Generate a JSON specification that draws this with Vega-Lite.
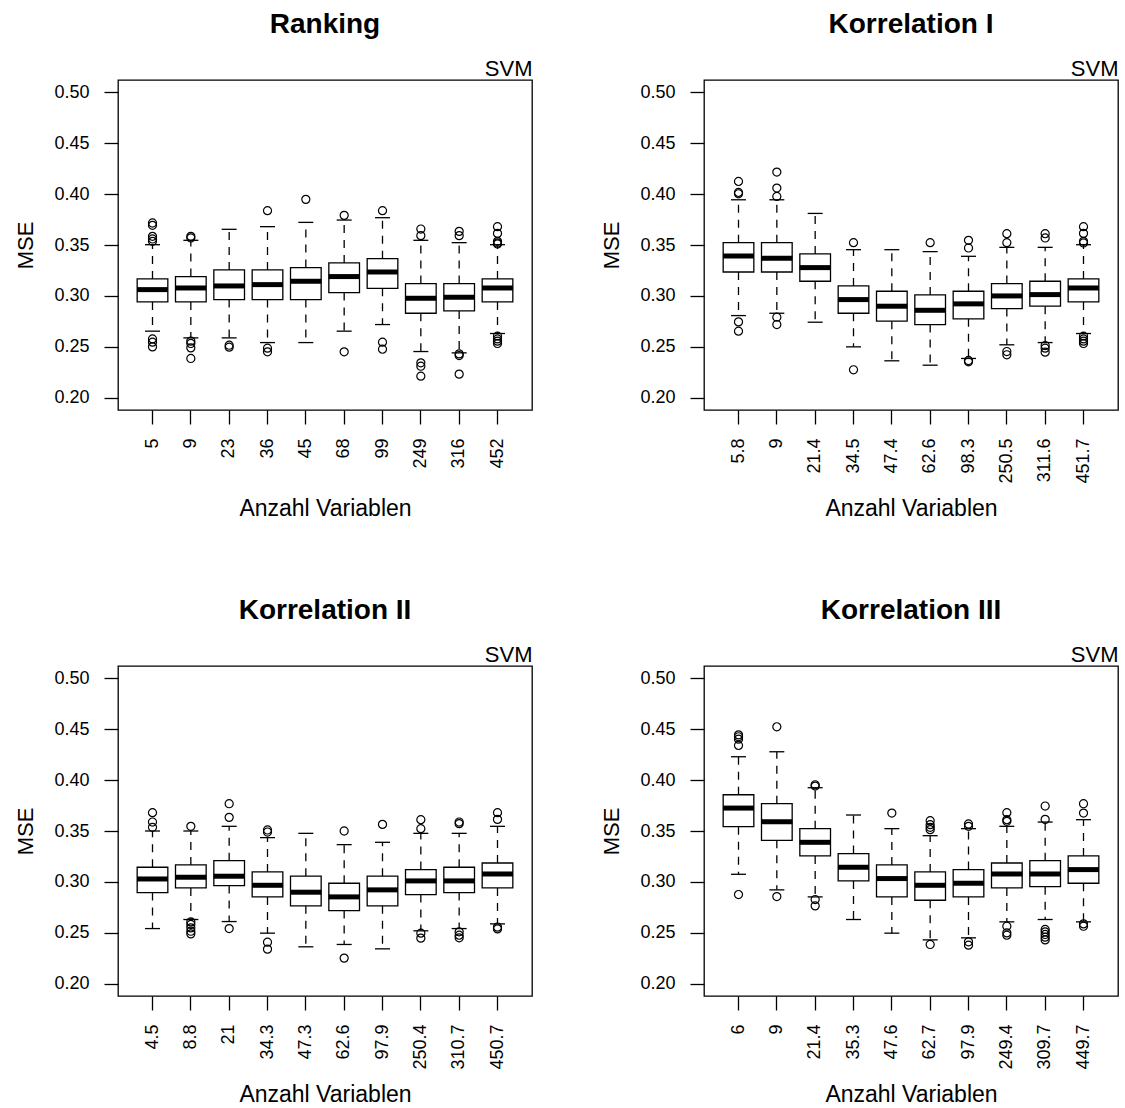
{
  "$schema": "https://vega.github.io/schema/vega-lite/v6.json",
  "background": "white",
  "padding": {"left": 14, "top": 10, "right": 5, "bottom": 2},
  "config": {
    "font": "Liberation Sans",
    "view": {"stroke": "black", "strokeWidth": 1.3},
    "axis": {"labelColor": "black", "titleColor": "black", "tickColor": "black", "labelFont": "Liberation Sans", "titleFont": "Liberation Sans"},
    "title": {"color": "black", "font": "Liberation Sans"},
    "tick": {"opacity": 1}
  },
  "datasets": {
    "boxes": [
      {"p": "R", "k": "5", "q1": 0.2941, "md": 0.3062, "q3": 0.3167, "lo": 0.2654, "hi": 0.3503},
      {"p": "R", "k": "9", "q1": 0.2941, "md": 0.3078, "q3": 0.3190, "lo": 0.2588, "hi": 0.3546},
      {"p": "R", "k": "23", "q1": 0.2964, "md": 0.3098, "q3": 0.3255, "lo": 0.2588, "hi": 0.3654},
      {"p": "R", "k": "36", "q1": 0.2964, "md": 0.3111, "q3": 0.3255, "lo": 0.2542, "hi": 0.3680},
      {"p": "R", "k": "45", "q1": 0.2964, "md": 0.3144, "q3": 0.3278, "lo": 0.2542, "hi": 0.3722},
      {"p": "R", "k": "68", "q1": 0.3033, "md": 0.3190, "q3": 0.3324, "lo": 0.2654, "hi": 0.3745},
      {"p": "R", "k": "99", "q1": 0.3075, "md": 0.3235, "q3": 0.3366, "lo": 0.2719, "hi": 0.3768},
      {"p": "R", "k": "249", "q1": 0.2830, "md": 0.2977, "q3": 0.3121, "lo": 0.2454, "hi": 0.3546},
      {"p": "R", "k": "316", "q1": 0.2853, "md": 0.2987, "q3": 0.3121, "lo": 0.2441, "hi": 0.3523},
      {"p": "R", "k": "452", "q1": 0.2941, "md": 0.3078, "q3": 0.3167, "lo": 0.2631, "hi": 0.3503},
      {"p": "K1", "k": "5.8", "q1": 0.3235, "md": 0.3392, "q3": 0.3523, "lo": 0.2807, "hi": 0.3944},
      {"p": "K1", "k": "9", "q1": 0.3235, "md": 0.3369, "q3": 0.3523, "lo": 0.2830, "hi": 0.3944},
      {"p": "K1", "k": "21.4", "q1": 0.3144, "md": 0.3278, "q3": 0.3412, "lo": 0.2742, "hi": 0.3810},
      {"p": "K1", "k": "34.5", "q1": 0.2830, "md": 0.2964, "q3": 0.3098, "lo": 0.2500, "hi": 0.3454},
      {"p": "K1", "k": "47.4", "q1": 0.2752, "md": 0.2899, "q3": 0.3046, "lo": 0.2363, "hi": 0.3454},
      {"p": "K1", "k": "62.6", "q1": 0.2719, "md": 0.2859, "q3": 0.3010, "lo": 0.2320, "hi": 0.3435},
      {"p": "K1", "k": "98.3", "q1": 0.2775, "md": 0.2922, "q3": 0.3046, "lo": 0.2386, "hi": 0.3389},
      {"p": "K1", "k": "250.5", "q1": 0.2876, "md": 0.3000, "q3": 0.3121, "lo": 0.2520, "hi": 0.3477},
      {"p": "K1", "k": "311.6", "q1": 0.2899, "md": 0.3013, "q3": 0.3144, "lo": 0.2542, "hi": 0.3477},
      {"p": "K1", "k": "451.7", "q1": 0.2941, "md": 0.3078, "q3": 0.3167, "lo": 0.2631, "hi": 0.3503},
      {"p": "K2", "k": "4.5", "q1": 0.2895, "md": 0.3029, "q3": 0.3144, "lo": 0.2542, "hi": 0.3500},
      {"p": "K2", "k": "8.8", "q1": 0.2941, "md": 0.3046, "q3": 0.3167, "lo": 0.2631, "hi": 0.3500},
      {"p": "K2", "k": "21", "q1": 0.2964, "md": 0.3056, "q3": 0.3209, "lo": 0.2611, "hi": 0.3546},
      {"p": "K2", "k": "34.3", "q1": 0.2853, "md": 0.2967, "q3": 0.3098, "lo": 0.2497, "hi": 0.3435},
      {"p": "K2", "k": "47.3", "q1": 0.2765, "md": 0.2899, "q3": 0.3056, "lo": 0.2363, "hi": 0.3477},
      {"p": "K2", "k": "62.6", "q1": 0.2719, "md": 0.2853, "q3": 0.2987, "lo": 0.2386, "hi": 0.3366},
      {"p": "K2", "k": "97.9", "q1": 0.2765, "md": 0.2922, "q3": 0.3056, "lo": 0.2343, "hi": 0.3389},
      {"p": "K2", "k": "250.4", "q1": 0.2876, "md": 0.3010, "q3": 0.3121, "lo": 0.2520, "hi": 0.3477},
      {"p": "K2", "k": "310.7", "q1": 0.2895, "md": 0.3010, "q3": 0.3144, "lo": 0.2542, "hi": 0.3477},
      {"p": "K2", "k": "450.7", "q1": 0.2941, "md": 0.3078, "q3": 0.3186, "lo": 0.2588, "hi": 0.3546},
      {"p": "K3", "k": "6", "q1": 0.3542, "md": 0.3725, "q3": 0.3856, "lo": 0.3075, "hi": 0.4229},
      {"p": "K3", "k": "9", "q1": 0.3408, "md": 0.3592, "q3": 0.3768, "lo": 0.2922, "hi": 0.4278},
      {"p": "K3", "k": "21.4", "q1": 0.3255, "md": 0.3389, "q3": 0.3523, "lo": 0.2853, "hi": 0.3925},
      {"p": "K3", "k": "35.3", "q1": 0.3010, "md": 0.3144, "q3": 0.3278, "lo": 0.2631, "hi": 0.3657},
      {"p": "K3", "k": "47.6", "q1": 0.2853, "md": 0.3033, "q3": 0.3167, "lo": 0.2497, "hi": 0.3523},
      {"p": "K3", "k": "62.7", "q1": 0.2820, "md": 0.2967, "q3": 0.3098, "lo": 0.2431, "hi": 0.3454},
      {"p": "K3", "k": "97.9", "q1": 0.2853, "md": 0.2987, "q3": 0.3121, "lo": 0.2451, "hi": 0.3523},
      {"p": "K3", "k": "249.4", "q1": 0.2941, "md": 0.3078, "q3": 0.3186, "lo": 0.2608, "hi": 0.3546},
      {"p": "K3", "k": "309.7", "q1": 0.2953, "md": 0.3078, "q3": 0.3209, "lo": 0.2631, "hi": 0.3588},
      {"p": "K3", "k": "449.7", "q1": 0.2987, "md": 0.3121, "q3": 0.3255, "lo": 0.2608, "hi": 0.3611}
    ],
    "out": [
      {"p": "R", "k": "5", "v": 0.3716}, {"p": "R", "k": "5", "v": 0.3693}, {"p": "R", "k": "5", "v": 0.3585}, {"p": "R", "k": "5", "v": 0.3559}, {"p": "R", "k": "5", "v": 0.3536}, {"p": "R", "k": "5", "v": 0.2578}, {"p": "R", "k": "5", "v": 0.2546}, {"p": "R", "k": "5", "v": 0.2500},
      {"p": "R", "k": "9", "v": 0.3585}, {"p": "R", "k": "9", "v": 0.3569}, {"p": "R", "k": "9", "v": 0.2556}, {"p": "R", "k": "9", "v": 0.2533}, {"p": "R", "k": "9", "v": 0.2490}, {"p": "R", "k": "9", "v": 0.2386},
      {"p": "R", "k": "23", "v": 0.2516}, {"p": "R", "k": "23", "v": 0.2497},
      {"p": "R", "k": "36", "v": 0.3837}, {"p": "R", "k": "36", "v": 0.2487}, {"p": "R", "k": "36", "v": 0.2451},
      {"p": "R", "k": "45", "v": 0.3948},
      {"p": "R", "k": "68", "v": 0.3791}, {"p": "R", "k": "68", "v": 0.2451},
      {"p": "R", "k": "99", "v": 0.3837}, {"p": "R", "k": "99", "v": 0.2546}, {"p": "R", "k": "99", "v": 0.2477},
      {"p": "R", "k": "249", "v": 0.3657}, {"p": "R", "k": "249", "v": 0.3592}, {"p": "R", "k": "249", "v": 0.2343}, {"p": "R", "k": "249", "v": 0.2310}, {"p": "R", "k": "249", "v": 0.2212},
      {"p": "R", "k": "316", "v": 0.3634}, {"p": "R", "k": "316", "v": 0.3592}, {"p": "R", "k": "316", "v": 0.2431}, {"p": "R", "k": "316", "v": 0.2415}, {"p": "R", "k": "316", "v": 0.2232},
      {"p": "R", "k": "452", "v": 0.3680}, {"p": "R", "k": "452", "v": 0.3614}, {"p": "R", "k": "452", "v": 0.3536}, {"p": "R", "k": "452", "v": 0.3520}, {"p": "R", "k": "452", "v": 0.3510}, {"p": "R", "k": "452", "v": 0.2605}, {"p": "R", "k": "452", "v": 0.2578}, {"p": "R", "k": "452", "v": 0.2556}, {"p": "R", "k": "452", "v": 0.2533},
      {"p": "K1", "k": "5.8", "v": 0.4124}, {"p": "K1", "k": "5.8", "v": 0.4016}, {"p": "K1", "k": "5.8", "v": 0.4003}, {"p": "K1", "k": "5.8", "v": 0.2745}, {"p": "K1", "k": "5.8", "v": 0.2654},
      {"p": "K1", "k": "9", "v": 0.4216}, {"p": "K1", "k": "9", "v": 0.4059}, {"p": "K1", "k": "9", "v": 0.3977}, {"p": "K1", "k": "9", "v": 0.2791}, {"p": "K1", "k": "9", "v": 0.2719},
      {"p": "K1", "k": "34.5", "v": 0.3523}, {"p": "K1", "k": "34.5", "v": 0.2275},
      {"p": "K1", "k": "62.6", "v": 0.3523},
      {"p": "K1", "k": "98.3", "v": 0.3546}, {"p": "K1", "k": "98.3", "v": 0.3471}, {"p": "K1", "k": "98.3", "v": 0.2366}, {"p": "K1", "k": "98.3", "v": 0.2353},
      {"p": "K1", "k": "250.5", "v": 0.3611}, {"p": "K1", "k": "250.5", "v": 0.3523}, {"p": "K1", "k": "250.5", "v": 0.2454}, {"p": "K1", "k": "250.5", "v": 0.2422},
      {"p": "K1", "k": "311.6", "v": 0.3611}, {"p": "K1", "k": "311.6", "v": 0.3569}, {"p": "K1", "k": "311.6", "v": 0.2513}, {"p": "K1", "k": "311.6", "v": 0.2487}, {"p": "K1", "k": "311.6", "v": 0.2448},
      {"p": "K1", "k": "451.7", "v": 0.3680}, {"p": "K1", "k": "451.7", "v": 0.3614}, {"p": "K1", "k": "451.7", "v": 0.3536}, {"p": "K1", "k": "451.7", "v": 0.3520}, {"p": "K1", "k": "451.7", "v": 0.2605}, {"p": "K1", "k": "451.7", "v": 0.2578}, {"p": "K1", "k": "451.7", "v": 0.2556}, {"p": "K1", "k": "451.7", "v": 0.2533},
      {"p": "K2", "k": "4.5", "v": 0.3680}, {"p": "K2", "k": "4.5", "v": 0.3588}, {"p": "K2", "k": "4.5", "v": 0.3536},
      {"p": "K2", "k": "8.8", "v": 0.3546}, {"p": "K2", "k": "8.8", "v": 0.2608}, {"p": "K2", "k": "8.8", "v": 0.2582}, {"p": "K2", "k": "8.8", "v": 0.2549}, {"p": "K2", "k": "8.8", "v": 0.2516}, {"p": "K2", "k": "8.8", "v": 0.2490},
      {"p": "K2", "k": "21", "v": 0.3768}, {"p": "K2", "k": "21", "v": 0.3634}, {"p": "K2", "k": "21", "v": 0.2542},
      {"p": "K2", "k": "34.3", "v": 0.3510}, {"p": "K2", "k": "34.3", "v": 0.3490}, {"p": "K2", "k": "34.3", "v": 0.2408}, {"p": "K2", "k": "34.3", "v": 0.2340},
      {"p": "K2", "k": "62.6", "v": 0.3500}, {"p": "K2", "k": "62.6", "v": 0.2252},
      {"p": "K2", "k": "97.9", "v": 0.3565},
      {"p": "K2", "k": "250.4", "v": 0.3611}, {"p": "K2", "k": "250.4", "v": 0.3523}, {"p": "K2", "k": "250.4", "v": 0.2497}, {"p": "K2", "k": "250.4", "v": 0.2448},
      {"p": "K2", "k": "310.7", "v": 0.3588}, {"p": "K2", "k": "310.7", "v": 0.3572}, {"p": "K2", "k": "310.7", "v": 0.2510}, {"p": "K2", "k": "310.7", "v": 0.2477}, {"p": "K2", "k": "310.7", "v": 0.2451},
      {"p": "K2", "k": "450.7", "v": 0.3680}, {"p": "K2", "k": "450.7", "v": 0.3614}, {"p": "K2", "k": "450.7", "v": 0.2556}, {"p": "K2", "k": "450.7", "v": 0.2539},
      {"p": "K3", "k": "6", "v": 0.4444}, {"p": "K3", "k": "6", "v": 0.4425}, {"p": "K3", "k": "6", "v": 0.4402}, {"p": "K3", "k": "6", "v": 0.4340}, {"p": "K3", "k": "6", "v": 0.2876},
      {"p": "K3", "k": "9", "v": 0.4523}, {"p": "K3", "k": "9", "v": 0.2856},
      {"p": "K3", "k": "21.4", "v": 0.3954}, {"p": "K3", "k": "21.4", "v": 0.3941}, {"p": "K3", "k": "21.4", "v": 0.2827}, {"p": "K3", "k": "21.4", "v": 0.2765},
      {"p": "K3", "k": "47.6", "v": 0.3676},
      {"p": "K3", "k": "62.7", "v": 0.3601}, {"p": "K3", "k": "62.7", "v": 0.3562}, {"p": "K3", "k": "62.7", "v": 0.3536}, {"p": "K3", "k": "62.7", "v": 0.3513}, {"p": "K3", "k": "62.7", "v": 0.2386},
      {"p": "K3", "k": "97.9", "v": 0.3569}, {"p": "K3", "k": "97.9", "v": 0.3546}, {"p": "K3", "k": "97.9", "v": 0.2412}, {"p": "K3", "k": "97.9", "v": 0.2379},
      {"p": "K3", "k": "249.4", "v": 0.3680}, {"p": "K3", "k": "249.4", "v": 0.3611}, {"p": "K3", "k": "249.4", "v": 0.3595}, {"p": "K3", "k": "249.4", "v": 0.2565}, {"p": "K3", "k": "249.4", "v": 0.2500}, {"p": "K3", "k": "249.4", "v": 0.2477},
      {"p": "K3", "k": "309.7", "v": 0.3745}, {"p": "K3", "k": "309.7", "v": 0.3614}, {"p": "K3", "k": "309.7", "v": 0.2533}, {"p": "K3", "k": "309.7", "v": 0.2510}, {"p": "K3", "k": "309.7", "v": 0.2484}, {"p": "K3", "k": "309.7", "v": 0.2458}, {"p": "K3", "k": "309.7", "v": 0.2431},
      {"p": "K3", "k": "449.7", "v": 0.3768}, {"p": "K3", "k": "449.7", "v": 0.3676}, {"p": "K3", "k": "449.7", "v": 0.2588}, {"p": "K3", "k": "449.7", "v": 0.2565}
    ]
  },
  "columns": 2,
  "spacing": {"row": 75, "column": 67},
  "concat": [
    {
      "width": 414, "height": 330,
      "title": {"text": "Ranking", "fontSize": 28, "fontWeight": "bold", "anchor": "middle", "frame": "group", "baseline": "alphabetic", "offset": -4},
      "resolve": {"axis": {"x": "independent", "y": "independent"}},
      "layer": [
        {"data": {"name": "boxes"}, "transform": [{"filter": "datum.p === 'R'"}],
         "mark": {"type": "rule", "color": "black", "strokeWidth": 1.3, "strokeDash": [8, 7]},
         "encoding": {
           "x": {"field": "k", "type": "nominal", "sort": null, "scale": {"type": "band", "paddingInner": 0, "paddingOuter": 0.4},
                 "axis": {"orient": "bottom", "title": "Anzahl Variablen", "labelAngle": 270, "labelFontSize": 18, "labelPadding": 14, "tickSize": 14, "tickWidth": 1.3, "domain": false, "titleFontSize": 23, "titleFontWeight": "normal", "titleY": 105, "titleBaseline": "alphabetic"}},
           "y": {"field": "q3", "type": "quantitative", "scale": {"domain": [0.188, 0.512], "nice": false, "zero": false},
                 "axis": {"orient": "left", "title": "MSE", "values": [0.2, 0.25, 0.3, 0.35, 0.4, 0.45, 0.5], "format": ".2f", "grid": false, "domain": false, "tickSize": 14, "tickWidth": 1.3, "labelPadding": 15, "labelFontSize": 18, "titleFontSize": 22, "titleFontWeight": "normal", "titlePadding": 16}},
           "y2": {"field": "hi"}
         }},
        {"data": {"name": "boxes"}, "transform": [{"filter": "datum.p === 'R'"}],
         "mark": {"type": "rule", "color": "black", "strokeWidth": 1.3, "strokeDash": [8, 7]},
         "encoding": {
           "x": {"field": "k", "type": "nominal", "sort": null, "scale": {"type": "band", "paddingInner": 0, "paddingOuter": 0.4}, "axis": null},
           "y": {"field": "q1", "type": "quantitative", "scale": {"domain": [0.188, 0.512], "nice": false, "zero": false}, "axis": null},
           "y2": {"field": "lo"}
         }},
        {"data": {"name": "boxes"}, "transform": [{"filter": "datum.p === 'R'"}],
         "mark": {"type": "tick", "orient": "horizontal", "color": "black", "size": 15, "thickness": 1.3, "opacity": 1},
         "encoding": {
           "x": {"field": "k", "type": "nominal", "sort": null, "scale": {"type": "band", "paddingInner": 0, "paddingOuter": 0.4}, "axis": null},
           "y": {"field": "hi", "type": "quantitative", "scale": {"domain": [0.188, 0.512], "nice": false, "zero": false}, "axis": null}
         }},
        {"data": {"name": "boxes"}, "transform": [{"filter": "datum.p === 'R'"}],
         "mark": {"type": "tick", "orient": "horizontal", "color": "black", "size": 15, "thickness": 1.3, "opacity": 1},
         "encoding": {
           "x": {"field": "k", "type": "nominal", "sort": null, "scale": {"type": "band", "paddingInner": 0, "paddingOuter": 0.4}, "axis": null},
           "y": {"field": "lo", "type": "quantitative", "scale": {"domain": [0.188, 0.512], "nice": false, "zero": false}, "axis": null}
         }},
        {"data": {"name": "boxes"}, "transform": [{"filter": "datum.p === 'R'"}],
         "mark": {"type": "bar", "fill": "white", "stroke": "black", "strokeWidth": 1.3, "width": {"band": 0.8}},
         "encoding": {
           "x": {"field": "k", "type": "nominal", "sort": null, "scale": {"type": "band", "paddingInner": 0, "paddingOuter": 0.4}, "axis": null},
           "y": {"field": "q1", "type": "quantitative", "scale": {"domain": [0.188, 0.512], "nice": false, "zero": false}, "axis": null},
           "y2": {"field": "q3"}
         }},
        {"data": {"name": "boxes"}, "transform": [{"filter": "datum.p === 'R'"}],
         "mark": {"type": "tick", "orient": "horizontal", "color": "black", "size": 31, "thickness": 5, "opacity": 1},
         "encoding": {
           "x": {"field": "k", "type": "nominal", "sort": null, "scale": {"type": "band", "paddingInner": 0, "paddingOuter": 0.4},
                 "axis": {"orient": "top", "labels": false, "ticks": false, "domain": false, "grid": false, "title": "SVM", "titleAnchor": "end", "titleFontSize": 22, "titleFontWeight": "normal", "titleBaseline": "alphabetic", "titlePadding": 5}},
           "y": {"field": "md", "type": "quantitative", "scale": {"domain": [0.188, 0.512], "nice": false, "zero": false}, "axis": null}
         }},
        {"data": {"name": "out"}, "transform": [{"filter": "datum.p === 'R'"}],
         "mark": {"type": "point", "shape": "circle", "filled": false, "color": "black", "size": 65, "strokeWidth": 1.2, "opacity": 1},
         "encoding": {
           "x": {"field": "k", "type": "nominal", "sort": null, "scale": {"type": "band", "paddingInner": 0, "paddingOuter": 0.4}, "axis": null},
           "y": {"field": "v", "type": "quantitative", "scale": {"domain": [0.188, 0.512], "nice": false, "zero": false}, "axis": null}
         }}
      ]
    },
    {
      "width": 414, "height": 330,
      "title": {"text": "Korrelation I", "fontSize": 28, "fontWeight": "bold", "anchor": "middle", "frame": "group", "baseline": "alphabetic", "offset": -4},
      "resolve": {"axis": {"x": "independent", "y": "independent"}},
      "layer": [
        {"data": {"name": "boxes"}, "transform": [{"filter": "datum.p === 'K1'"}],
         "mark": {"type": "rule", "color": "black", "strokeWidth": 1.3, "strokeDash": [8, 7]},
         "encoding": {
           "x": {"field": "k", "type": "nominal", "sort": null, "scale": {"type": "band", "paddingInner": 0, "paddingOuter": 0.4},
                 "axis": {"orient": "bottom", "title": "Anzahl Variablen", "labelAngle": 270, "labelFontSize": 18, "labelPadding": 14, "tickSize": 14, "tickWidth": 1.3, "domain": false, "titleFontSize": 23, "titleFontWeight": "normal", "titleY": 105, "titleBaseline": "alphabetic"}},
           "y": {"field": "q3", "type": "quantitative", "scale": {"domain": [0.188, 0.512], "nice": false, "zero": false},
                 "axis": {"orient": "left", "title": "MSE", "values": [0.2, 0.25, 0.3, 0.35, 0.4, 0.45, 0.5], "format": ".2f", "grid": false, "domain": false, "tickSize": 14, "tickWidth": 1.3, "labelPadding": 15, "labelFontSize": 18, "titleFontSize": 22, "titleFontWeight": "normal", "titlePadding": 16}},
           "y2": {"field": "hi"}
         }},
        {"data": {"name": "boxes"}, "transform": [{"filter": "datum.p === 'K1'"}],
         "mark": {"type": "rule", "color": "black", "strokeWidth": 1.3, "strokeDash": [8, 7]},
         "encoding": {
           "x": {"field": "k", "type": "nominal", "sort": null, "scale": {"type": "band", "paddingInner": 0, "paddingOuter": 0.4}, "axis": null},
           "y": {"field": "q1", "type": "quantitative", "scale": {"domain": [0.188, 0.512], "nice": false, "zero": false}, "axis": null},
           "y2": {"field": "lo"}
         }},
        {"data": {"name": "boxes"}, "transform": [{"filter": "datum.p === 'K1'"}],
         "mark": {"type": "tick", "orient": "horizontal", "color": "black", "size": 15, "thickness": 1.3, "opacity": 1},
         "encoding": {
           "x": {"field": "k", "type": "nominal", "sort": null, "scale": {"type": "band", "paddingInner": 0, "paddingOuter": 0.4}, "axis": null},
           "y": {"field": "hi", "type": "quantitative", "scale": {"domain": [0.188, 0.512], "nice": false, "zero": false}, "axis": null}
         }},
        {"data": {"name": "boxes"}, "transform": [{"filter": "datum.p === 'K1'"}],
         "mark": {"type": "tick", "orient": "horizontal", "color": "black", "size": 15, "thickness": 1.3, "opacity": 1},
         "encoding": {
           "x": {"field": "k", "type": "nominal", "sort": null, "scale": {"type": "band", "paddingInner": 0, "paddingOuter": 0.4}, "axis": null},
           "y": {"field": "lo", "type": "quantitative", "scale": {"domain": [0.188, 0.512], "nice": false, "zero": false}, "axis": null}
         }},
        {"data": {"name": "boxes"}, "transform": [{"filter": "datum.p === 'K1'"}],
         "mark": {"type": "bar", "fill": "white", "stroke": "black", "strokeWidth": 1.3, "width": {"band": 0.8}},
         "encoding": {
           "x": {"field": "k", "type": "nominal", "sort": null, "scale": {"type": "band", "paddingInner": 0, "paddingOuter": 0.4}, "axis": null},
           "y": {"field": "q1", "type": "quantitative", "scale": {"domain": [0.188, 0.512], "nice": false, "zero": false}, "axis": null},
           "y2": {"field": "q3"}
         }},
        {"data": {"name": "boxes"}, "transform": [{"filter": "datum.p === 'K1'"}],
         "mark": {"type": "tick", "orient": "horizontal", "color": "black", "size": 31, "thickness": 5, "opacity": 1},
         "encoding": {
           "x": {"field": "k", "type": "nominal", "sort": null, "scale": {"type": "band", "paddingInner": 0, "paddingOuter": 0.4},
                 "axis": {"orient": "top", "labels": false, "ticks": false, "domain": false, "grid": false, "title": "SVM", "titleAnchor": "end", "titleFontSize": 22, "titleFontWeight": "normal", "titleBaseline": "alphabetic", "titlePadding": 5}},
           "y": {"field": "md", "type": "quantitative", "scale": {"domain": [0.188, 0.512], "nice": false, "zero": false}, "axis": null}
         }},
        {"data": {"name": "out"}, "transform": [{"filter": "datum.p === 'K1'"}],
         "mark": {"type": "point", "shape": "circle", "filled": false, "color": "black", "size": 65, "strokeWidth": 1.2, "opacity": 1},
         "encoding": {
           "x": {"field": "k", "type": "nominal", "sort": null, "scale": {"type": "band", "paddingInner": 0, "paddingOuter": 0.4}, "axis": null},
           "y": {"field": "v", "type": "quantitative", "scale": {"domain": [0.188, 0.512], "nice": false, "zero": false}, "axis": null}
         }}
      ]
    },
    {
      "width": 414, "height": 330,
      "title": {"text": "Korrelation II", "fontSize": 28, "fontWeight": "bold", "anchor": "middle", "frame": "group", "baseline": "alphabetic", "offset": -4},
      "resolve": {"axis": {"x": "independent", "y": "independent"}},
      "layer": [
        {"data": {"name": "boxes"}, "transform": [{"filter": "datum.p === 'K2'"}],
         "mark": {"type": "rule", "color": "black", "strokeWidth": 1.3, "strokeDash": [8, 7]},
         "encoding": {
           "x": {"field": "k", "type": "nominal", "sort": null, "scale": {"type": "band", "paddingInner": 0, "paddingOuter": 0.4},
                 "axis": {"orient": "bottom", "title": "Anzahl Variablen", "labelAngle": 270, "labelFontSize": 18, "labelPadding": 14, "tickSize": 14, "tickWidth": 1.3, "domain": false, "titleFontSize": 23, "titleFontWeight": "normal", "titleY": 105, "titleBaseline": "alphabetic"}},
           "y": {"field": "q3", "type": "quantitative", "scale": {"domain": [0.188, 0.512], "nice": false, "zero": false},
                 "axis": {"orient": "left", "title": "MSE", "values": [0.2, 0.25, 0.3, 0.35, 0.4, 0.45, 0.5], "format": ".2f", "grid": false, "domain": false, "tickSize": 14, "tickWidth": 1.3, "labelPadding": 15, "labelFontSize": 18, "titleFontSize": 22, "titleFontWeight": "normal", "titlePadding": 16}},
           "y2": {"field": "hi"}
         }},
        {"data": {"name": "boxes"}, "transform": [{"filter": "datum.p === 'K2'"}],
         "mark": {"type": "rule", "color": "black", "strokeWidth": 1.3, "strokeDash": [8, 7]},
         "encoding": {
           "x": {"field": "k", "type": "nominal", "sort": null, "scale": {"type": "band", "paddingInner": 0, "paddingOuter": 0.4}, "axis": null},
           "y": {"field": "q1", "type": "quantitative", "scale": {"domain": [0.188, 0.512], "nice": false, "zero": false}, "axis": null},
           "y2": {"field": "lo"}
         }},
        {"data": {"name": "boxes"}, "transform": [{"filter": "datum.p === 'K2'"}],
         "mark": {"type": "tick", "orient": "horizontal", "color": "black", "size": 15, "thickness": 1.3, "opacity": 1},
         "encoding": {
           "x": {"field": "k", "type": "nominal", "sort": null, "scale": {"type": "band", "paddingInner": 0, "paddingOuter": 0.4}, "axis": null},
           "y": {"field": "hi", "type": "quantitative", "scale": {"domain": [0.188, 0.512], "nice": false, "zero": false}, "axis": null}
         }},
        {"data": {"name": "boxes"}, "transform": [{"filter": "datum.p === 'K2'"}],
         "mark": {"type": "tick", "orient": "horizontal", "color": "black", "size": 15, "thickness": 1.3, "opacity": 1},
         "encoding": {
           "x": {"field": "k", "type": "nominal", "sort": null, "scale": {"type": "band", "paddingInner": 0, "paddingOuter": 0.4}, "axis": null},
           "y": {"field": "lo", "type": "quantitative", "scale": {"domain": [0.188, 0.512], "nice": false, "zero": false}, "axis": null}
         }},
        {"data": {"name": "boxes"}, "transform": [{"filter": "datum.p === 'K2'"}],
         "mark": {"type": "bar", "fill": "white", "stroke": "black", "strokeWidth": 1.3, "width": {"band": 0.8}},
         "encoding": {
           "x": {"field": "k", "type": "nominal", "sort": null, "scale": {"type": "band", "paddingInner": 0, "paddingOuter": 0.4}, "axis": null},
           "y": {"field": "q1", "type": "quantitative", "scale": {"domain": [0.188, 0.512], "nice": false, "zero": false}, "axis": null},
           "y2": {"field": "q3"}
         }},
        {"data": {"name": "boxes"}, "transform": [{"filter": "datum.p === 'K2'"}],
         "mark": {"type": "tick", "orient": "horizontal", "color": "black", "size": 31, "thickness": 5, "opacity": 1},
         "encoding": {
           "x": {"field": "k", "type": "nominal", "sort": null, "scale": {"type": "band", "paddingInner": 0, "paddingOuter": 0.4},
                 "axis": {"orient": "top", "labels": false, "ticks": false, "domain": false, "grid": false, "title": "SVM", "titleAnchor": "end", "titleFontSize": 22, "titleFontWeight": "normal", "titleBaseline": "alphabetic", "titlePadding": 5}},
           "y": {"field": "md", "type": "quantitative", "scale": {"domain": [0.188, 0.512], "nice": false, "zero": false}, "axis": null}
         }},
        {"data": {"name": "out"}, "transform": [{"filter": "datum.p === 'K2'"}],
         "mark": {"type": "point", "shape": "circle", "filled": false, "color": "black", "size": 65, "strokeWidth": 1.2, "opacity": 1},
         "encoding": {
           "x": {"field": "k", "type": "nominal", "sort": null, "scale": {"type": "band", "paddingInner": 0, "paddingOuter": 0.4}, "axis": null},
           "y": {"field": "v", "type": "quantitative", "scale": {"domain": [0.188, 0.512], "nice": false, "zero": false}, "axis": null}
         }}
      ]
    },
    {
      "width": 414, "height": 330,
      "title": {"text": "Korrelation III", "fontSize": 28, "fontWeight": "bold", "anchor": "middle", "frame": "group", "baseline": "alphabetic", "offset": -4},
      "resolve": {"axis": {"x": "independent", "y": "independent"}},
      "layer": [
        {"data": {"name": "boxes"}, "transform": [{"filter": "datum.p === 'K3'"}],
         "mark": {"type": "rule", "color": "black", "strokeWidth": 1.3, "strokeDash": [8, 7]},
         "encoding": {
           "x": {"field": "k", "type": "nominal", "sort": null, "scale": {"type": "band", "paddingInner": 0, "paddingOuter": 0.4},
                 "axis": {"orient": "bottom", "title": "Anzahl Variablen", "labelAngle": 270, "labelFontSize": 18, "labelPadding": 14, "tickSize": 14, "tickWidth": 1.3, "domain": false, "titleFontSize": 23, "titleFontWeight": "normal", "titleY": 105, "titleBaseline": "alphabetic"}},
           "y": {"field": "q3", "type": "quantitative", "scale": {"domain": [0.188, 0.512], "nice": false, "zero": false},
                 "axis": {"orient": "left", "title": "MSE", "values": [0.2, 0.25, 0.3, 0.35, 0.4, 0.45, 0.5], "format": ".2f", "grid": false, "domain": false, "tickSize": 14, "tickWidth": 1.3, "labelPadding": 15, "labelFontSize": 18, "titleFontSize": 22, "titleFontWeight": "normal", "titlePadding": 16}},
           "y2": {"field": "hi"}
         }},
        {"data": {"name": "boxes"}, "transform": [{"filter": "datum.p === 'K3'"}],
         "mark": {"type": "rule", "color": "black", "strokeWidth": 1.3, "strokeDash": [8, 7]},
         "encoding": {
           "x": {"field": "k", "type": "nominal", "sort": null, "scale": {"type": "band", "paddingInner": 0, "paddingOuter": 0.4}, "axis": null},
           "y": {"field": "q1", "type": "quantitative", "scale": {"domain": [0.188, 0.512], "nice": false, "zero": false}, "axis": null},
           "y2": {"field": "lo"}
         }},
        {"data": {"name": "boxes"}, "transform": [{"filter": "datum.p === 'K3'"}],
         "mark": {"type": "tick", "orient": "horizontal", "color": "black", "size": 15, "thickness": 1.3, "opacity": 1},
         "encoding": {
           "x": {"field": "k", "type": "nominal", "sort": null, "scale": {"type": "band", "paddingInner": 0, "paddingOuter": 0.4}, "axis": null},
           "y": {"field": "hi", "type": "quantitative", "scale": {"domain": [0.188, 0.512], "nice": false, "zero": false}, "axis": null}
         }},
        {"data": {"name": "boxes"}, "transform": [{"filter": "datum.p === 'K3'"}],
         "mark": {"type": "tick", "orient": "horizontal", "color": "black", "size": 15, "thickness": 1.3, "opacity": 1},
         "encoding": {
           "x": {"field": "k", "type": "nominal", "sort": null, "scale": {"type": "band", "paddingInner": 0, "paddingOuter": 0.4}, "axis": null},
           "y": {"field": "lo", "type": "quantitative", "scale": {"domain": [0.188, 0.512], "nice": false, "zero": false}, "axis": null}
         }},
        {"data": {"name": "boxes"}, "transform": [{"filter": "datum.p === 'K3'"}],
         "mark": {"type": "bar", "fill": "white", "stroke": "black", "strokeWidth": 1.3, "width": {"band": 0.8}},
         "encoding": {
           "x": {"field": "k", "type": "nominal", "sort": null, "scale": {"type": "band", "paddingInner": 0, "paddingOuter": 0.4}, "axis": null},
           "y": {"field": "q1", "type": "quantitative", "scale": {"domain": [0.188, 0.512], "nice": false, "zero": false}, "axis": null},
           "y2": {"field": "q3"}
         }},
        {"data": {"name": "boxes"}, "transform": [{"filter": "datum.p === 'K3'"}],
         "mark": {"type": "tick", "orient": "horizontal", "color": "black", "size": 31, "thickness": 5, "opacity": 1},
         "encoding": {
           "x": {"field": "k", "type": "nominal", "sort": null, "scale": {"type": "band", "paddingInner": 0, "paddingOuter": 0.4},
                 "axis": {"orient": "top", "labels": false, "ticks": false, "domain": false, "grid": false, "title": "SVM", "titleAnchor": "end", "titleFontSize": 22, "titleFontWeight": "normal", "titleBaseline": "alphabetic", "titlePadding": 5}},
           "y": {"field": "md", "type": "quantitative", "scale": {"domain": [0.188, 0.512], "nice": false, "zero": false}, "axis": null}
         }},
        {"data": {"name": "out"}, "transform": [{"filter": "datum.p === 'K3'"}],
         "mark": {"type": "point", "shape": "circle", "filled": false, "color": "black", "size": 65, "strokeWidth": 1.2, "opacity": 1},
         "encoding": {
           "x": {"field": "k", "type": "nominal", "sort": null, "scale": {"type": "band", "paddingInner": 0, "paddingOuter": 0.4}, "axis": null},
           "y": {"field": "v", "type": "quantitative", "scale": {"domain": [0.188, 0.512], "nice": false, "zero": false}, "axis": null}
         }}
      ]
    }
  ]
}
